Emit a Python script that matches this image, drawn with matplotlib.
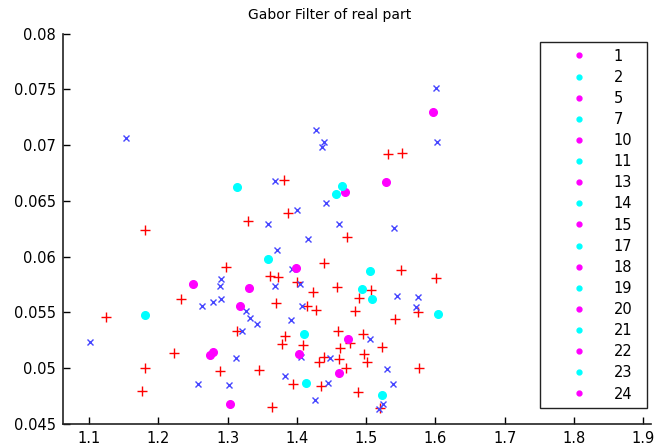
import matplotlib.pyplot as plt
from matplotlib.lines import Line2D

# red "+" points
red_x = [1.1803, 1.3813, 1.3870, 1.3293, 1.2981, 1.4385, 1.3615, 1.3726, 1.4005, 1.4231,
         1.3692, 1.2322, 1.4144, 1.4279, 1.1250, 1.3135, 1.3827, 1.3788, 1.4087, 1.4395,
         1.4313, 1.2226, 1.1803, 1.1769, 1.2885, 1.3447, 1.3942, 1.4351, 1.3644,
         1.5319, 1.5521, 1.4728, 1.4574, 1.5502, 1.6002, 1.5064, 1.4896, 1.4838, 1.5752,
         1.5416, 1.4588, 1.4959, 1.4766, 1.5223, 1.4622, 1.4973, 1.5016, 1.4612, 1.4708,
         1.5767, 1.4877, 1.5199]
red_y = [0.06240, 0.06688, 0.06395, 0.06320, 0.05911, 0.05941, 0.05824, 0.05818, 0.05776, 0.05687,
         0.05588, 0.05618, 0.05558, 0.05522, 0.05463, 0.05337, 0.05289, 0.05218, 0.05209, 0.05100,
         0.05059, 0.05134, 0.05002, 0.04799, 0.04976, 0.04984, 0.04859, 0.04844, 0.04656,
         0.06921, 0.06933, 0.06177, 0.05725, 0.05881, 0.05812, 0.05701, 0.05627, 0.05513, 0.05501,
         0.05441, 0.05337, 0.05307, 0.05223, 0.05187, 0.05184, 0.05127, 0.05059, 0.05083, 0.05000,
         0.05000, 0.04789, 0.04646]

# blue "x" points
blue_x = [1.1529, 1.4274, 1.4385, 1.4365, 1.3678, 1.4005, 1.4413, 1.3582, 1.4163, 1.3712,
          1.2899, 1.2885, 1.2909, 1.2788, 1.2635, 1.3269, 1.3327, 1.3423, 1.3212, 1.3678,
          1.3933, 1.4048, 1.4072, 1.3909, 1.1010, 1.3115, 1.4053, 1.4478, 1.2570, 1.3019,
          1.3827, 1.4255, 1.4454, 1.6002, 1.6026, 1.4612, 1.5401, 1.5055, 1.5440, 1.5752,
          1.5714, 1.5305, 1.5382, 1.5185, 1.5247]
blue_y = [0.07068, 0.07139, 0.07026, 0.06987, 0.06682, 0.06422, 0.06485, 0.06290, 0.06159, 0.06060,
          0.05803, 0.05738, 0.05618, 0.05597, 0.05555, 0.05516, 0.05454, 0.05394, 0.05334, 0.05738,
          0.05890, 0.05753, 0.05558, 0.05433, 0.05238, 0.05095, 0.05104, 0.05094, 0.04862, 0.04850,
          0.04931, 0.04718, 0.04870, 0.07516, 0.07026, 0.06290, 0.06260, 0.05259, 0.05647, 0.05636,
          0.05546, 0.04993, 0.04858, 0.04634, 0.04676]

# magenta dots
mag_x = [1.2500, 1.3308, 1.3173, 1.3981, 1.2788, 1.2740, 1.4024, 1.3038, 1.5959, 1.5281,
         1.4694, 1.4742, 1.4607]
mag_y = [0.05753, 0.05723, 0.05558, 0.05896, 0.05149, 0.05119, 0.05128, 0.04677, 0.07301, 0.06667,
         0.06577, 0.05259, 0.04954]

# cyan dots
cyan_x = [1.3135, 1.3582, 1.1803, 1.4096, 1.4125, 1.4646, 1.4569, 1.5055, 1.4935, 1.5079,
          1.6041, 1.5233]
cyan_y = [0.06628, 0.05977, 0.05475, 0.05304, 0.04871, 0.06637, 0.06559, 0.05872, 0.05707, 0.05618,
          0.05483, 0.04760]

legend_labels = ['1', '2', '5', '7', '10', '11', '13', '14', '15', '17', '18', '19',
                 '20', '21', '22', '23', '24']

xticks = [1.1, 1.2, 1.3, 1.4, 1.5, 1.6, 1.7, 1.8, 1.9]
yticks = [0.045, 0.05, 0.055, 0.06, 0.065, 0.07, 0.075, 0.08]

MAG = '#ff00ff'
CYAN = '#00ffff'

fig = plt.figure(figsize=(6.55, 4.48), dpi=100)
ax = fig.add_axes([63 / 655, 1 - 424 / 448, (651 - 63) / 655, (424 - 33.7) / 448])

ax.plot(red_x, red_y, '+', color='#ff0000', ms=7.5, mew=1.0)
ax.plot(blue_x, blue_y, 'x', color='#4646ff', ms=5, mew=1.0)
ax.plot(mag_x, mag_y, 'o', color=MAG, ms=5.5, mec=MAG)
ax.plot(cyan_x, cyan_y, 'o', color=CYAN, ms=5.5, mec=CYAN)

ax.set_xlim(1.0625, 1.911)
ax.set_ylim(0.045, 0.08)
ax.set_xticks(xticks)
ax.set_yticks(yticks)
ax.set_xticklabels([f'{v:g}' for v in xticks])
ax.set_yticklabels([f'{v:g}' for v in yticks])
ax.tick_params(direction='in', length=5, width=1, labelsize=10.5, pad=5)
ax.tick_params(axis='x', pad=5)
ax.spines['top'].set_visible(False)
ax.spines['right'].set_visible(False)
for s in ['left', 'bottom']:
    ax.spines[s].set_linewidth(1.2)
    ax.spines[s].set_color('#222222')

handles = [Line2D([], [], ls='', marker='o', ms=3.5,
                  color=MAG if i % 2 == 0 else CYAN)
           for i in range(len(legend_labels))]
leg = ax.legend(handles, legend_labels, loc='upper left',
                bbox_to_anchor=(540 / 655, 1 - 409 / 448, 107 / 655, 367 / 448),
                bbox_transform=fig.transFigure, mode='expand', borderaxespad=0,
                fontsize=10.5, labelspacing=0.42, borderpad=0.45,
                handlelength=4.4, handletextpad=0.2, fancybox=False, framealpha=1)
leg.get_frame().set_edgecolor('#222222')
leg.get_frame().set_linewidth(1.0)

fig.text(330 / 655, 1 - 15 / 448, 'Gabor Filter of real part', ha='center', va='center',
         fontsize=10)

fig.savefig('out.png', dpi=100)
